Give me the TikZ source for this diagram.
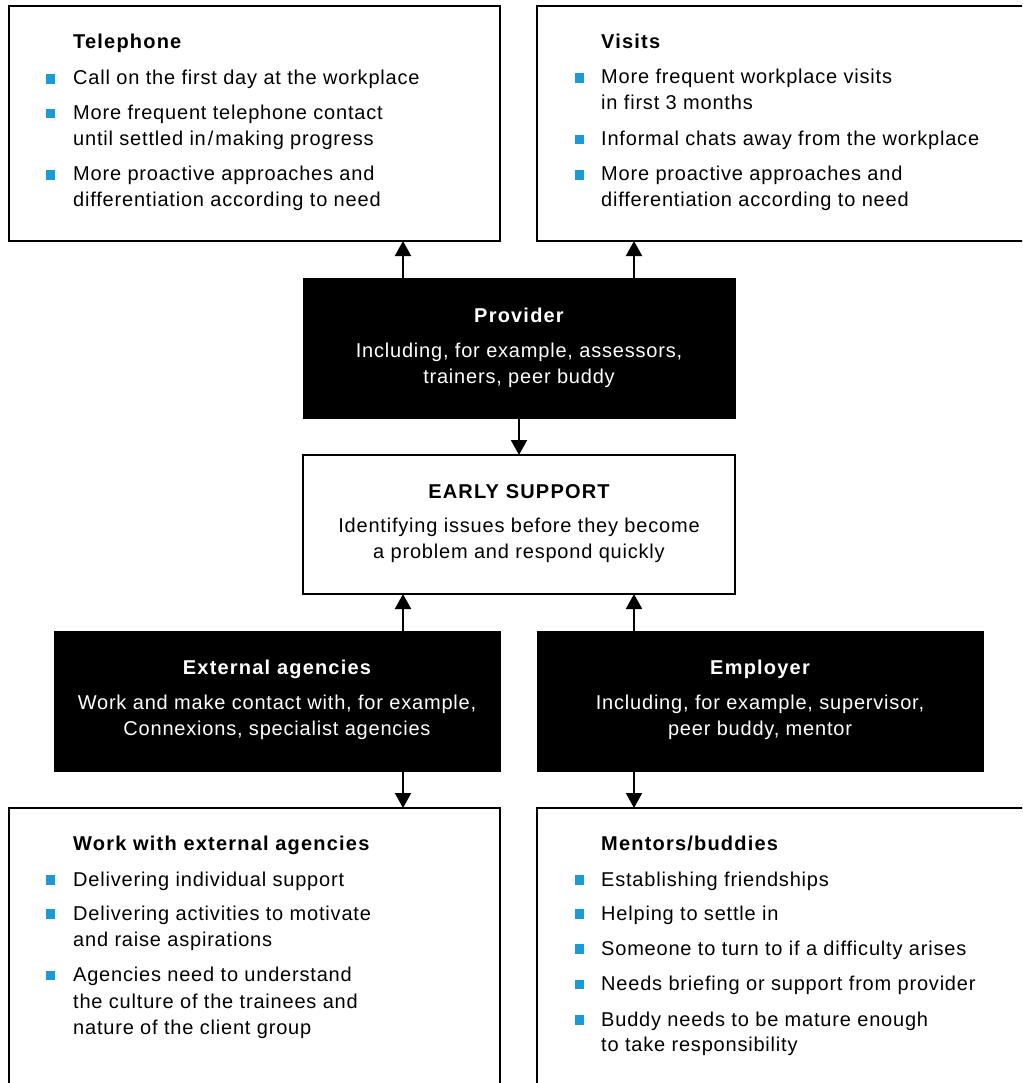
\documentclass[tikz,border=0pt]{standalone}
\usepackage{fontspec}
\setmainfont{Liberation Sans}
\newfontfamily\regf{Liberation Sans}[LetterSpace=4]
\newfontfamily\boldf{Liberation Sans}[LetterSpace=6]
\usetikzlibrary{arrows.meta}
\definecolor{bulletblue}{HTML}{1A9AD6}
\tikzset{
  box/.style={draw=black, line width=2pt, fill=white, anchor=north west, inner sep=0pt, outer sep=0pt},
  darkbox/.style={draw=black, line width=0.8pt, fill=black, anchor=north west, inner sep=0pt, outer sep=0pt},
  ttl/.style={anchor=base west, inner sep=0pt, font=\boldf\bfseries\fontsize{20}{24}\selectfont},
  itm/.style={anchor=base west, inner sep=0pt, font=\regf\fontsize{20}{24}\selectfont},
  cttl/.style={anchor=base, inner sep=0pt, font=\boldf\bfseries\fontsize{20}{24}\selectfont},
  ctxt/.style={anchor=base, inner sep=0pt, font=\regf\fontsize{20}{24}\selectfont},
  sq/.style={fill=bulletblue, minimum width=9pt, minimum height=9.5pt, inner sep=0pt, anchor=south west},
  arr/.style={line width=2pt, -{Triangle[width=16pt,length=15pt]}}
}
\begin{document}
\begin{tikzpicture}[x=1pt,y=-1pt]
\useasboundingbox (0,0) rectangle (1022,1083);
\clip (0,0) rectangle (1022,1083);
% boxes
\node[box, minimum width=491pt, minimum height=235pt] (tel) at (9,6) {};
\node[box, minimum width=493pt, minimum height=235pt] (vis) at (537,6) {};
\node[darkbox, minimum width=432pt, minimum height=140pt] (prov) at (303,278) {};
\node[box, minimum width=432pt, minimum height=139pt] (early) at (303,455) {};
\node[darkbox, minimum width=446pt, minimum height=140pt] (ext) at (54,631) {};
\node[darkbox, minimum width=446pt, minimum height=140pt] (emp) at (537,631) {};
\node[box, minimum width=491pt, minimum height=300pt] (work) at (9,808) {};
\node[box, minimum width=493pt, minimum height=300pt] (ment) at (537,808) {};
% arrows
\draw[arr] ([xshift=100pt]prov.north west) -- ([xshift=100pt]prov.north west |- tel.south);
\draw[arr] ([xshift=-101pt]prov.north east) -- ([xshift=-101pt]prov.north east |- vis.south);
\draw[arr] (prov.south) -- (early.north);
\draw[arr] ([xshift=100pt]early.south west |- ext.north) -- ([xshift=100pt]early.south west);
\draw[arr] ([xshift=-101pt]early.south east |- emp.north) -- ([xshift=-101pt]early.south east);
\draw[arr] ([xshift=100pt]early.south west |- ext.south) -- ([xshift=100pt]early.south west |- work.north);
\draw[arr] ([xshift=-101pt]early.south east |- emp.south) -- ([xshift=-101pt]early.south east |- ment.north);
% Telephone
\node[ttl] (telT) at (73,49) {Telephone};
\node[sq] (telB1) at (46,84) {};
\node[itm] (tel1) at (73,85) {Call on the first day at the workplace};
\node[sq] (telB2) at (46,118.5) {};
\node[itm] (tel2a) at (73,119.5) {More frequent telephone contact};
\node[itm] (tel2b) at (73,146) {until settled in\kern2pt/\kern2pt making progress};
\node[sq] (telB3) at (46,180) {};
\node[itm] (tel3a) at (73,181) {More proactive approaches and};
\node[itm] (tel3b) at (73,207) {differentiation according to need};
% Visits
\node[ttl] (visT) at (601,49) {Visits};
\node[sq] (visB1) at (574.5,83) {};
\node[itm] (vis1a) at (601,84) {More frequent workplace visits};
\node[itm] (vis1b) at (601,110) {in first 3 months};
\node[sq] (visB2) at (574.5,144.7) {};
\node[itm] (vis2) at (601,145.7) {Informal chats away from the workplace};
\node[sq] (visB3) at (574.5,180) {};
\node[itm] (vis3a) at (601,181) {More proactive approaches and};
\node[itm] (vis3b) at (601,207) {differentiation according to need};
% Provider
\node[cttl, text=white] (provT) at (519,322) {Provider};
\node[ctxt, text=white] (prov1) at (519,357) {Including, for example, assessors,};
\node[ctxt, text=white] (prov2) at (519,383) {trainers, peer buddy};
% Early support
\node[cttl] (earlyT) at (519,498) {EARLY SUPPORT};
\node[ctxt] (early1) at (519,532) {Identifying issues before they become};
\node[ctxt] (early2) at (519,558) {a problem and respond quickly};
% External agencies
\node[cttl, text=white] (extT) at (277,674) {External agencies};
\node[ctxt, text=white] (ext1) at (277,709) {Work and make contact with, for example,};
\node[ctxt, text=white] (ext2) at (277,735) {Connexions, specialist agencies};
% Employer
\node[cttl, text=white] (empT) at (760,674) {Employer};
\node[ctxt, text=white] (emp1) at (760,709) {Including, for example, supervisor,};
\node[ctxt, text=white] (emp2) at (760,735) {peer buddy, mentor};
% Work with external agencies
\node[ttl] (workT) at (73,850) {Work with external agencies};
\node[sq] (workB1) at (46,885) {};
\node[itm] (work1) at (73,886) {Delivering individual support};
\node[sq] (workB2) at (46,919) {};
\node[itm] (work2a) at (73,920) {Delivering activities to motivate};
\node[itm] (work2b) at (73,946.5) {and raise aspirations};
\node[sq] (workB3) at (46,980.5) {};
\node[itm] (work3a) at (73,981.5) {Agencies need to understand};
\node[itm] (work3b) at (73,1008) {the culture of the trainees and};
\node[itm] (work3c) at (73,1034.5) {nature of the client group};
% Mentors
\node[ttl] (mentT) at (601,850) {Mentors/buddies};
\node[sq] (mentB1) at (574.5,885) {};
\node[itm] (ment1) at (601,886) {Establishing friendships};
\node[sq] (mentB2) at (574.5,919) {};
\node[itm] (ment2) at (601,920) {Helping to settle in};
\node[sq] (mentB3) at (574.5,954) {};
\node[itm] (ment3) at (601,955) {Someone to turn to if a difficulty arises};
\node[sq] (mentB4) at (574.5,989.5) {};
\node[itm] (ment4) at (601,990.5) {Needs briefing or support from provider};
\node[sq] (mentB5) at (574.5,1025) {};
\node[itm] (ment5a) at (601,1026) {Buddy needs to be mature enough};
\node[itm] (ment5b) at (601,1051.5) {to take responsibility};
\end{tikzpicture}
\end{document}
